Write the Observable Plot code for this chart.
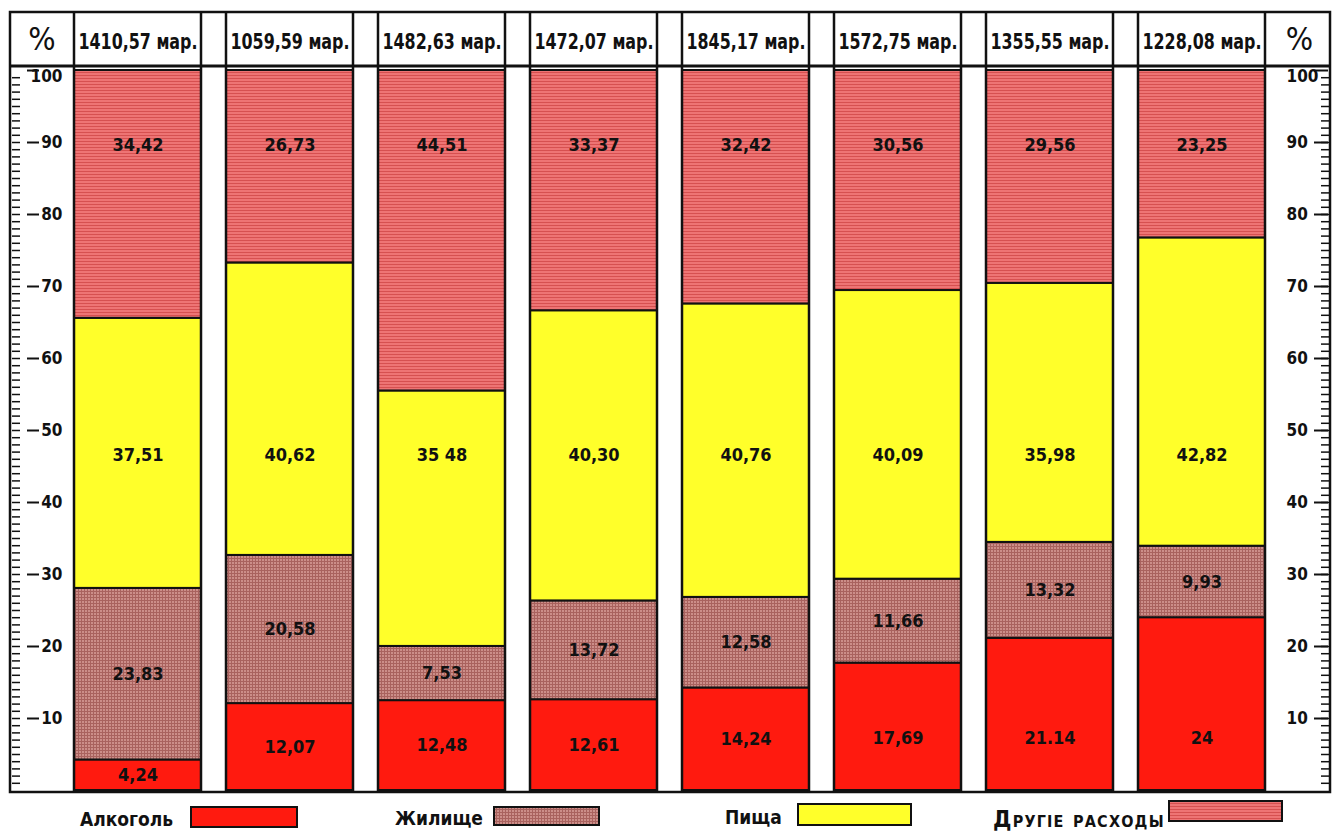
<!DOCTYPE html>
<html><head><meta charset="utf-8">
<script src="https://cdn.jsdelivr.net/npm/d3@7"></script>
<script src="https://cdn.jsdelivr.net/npm/@observablehq/plot@0.6"></script>
<style>
body{margin:0;background:#fff;}
#wrap{position:relative;width:1334px;height:834px;font-family:"DejaVu Sans Condensed","DejaVu Sans",sans-serif;}
.li{position:absolute;font-weight:bold;font-size:19px;color:#111;line-height:22px;}
.sw{position:absolute;}
</style></head><body>
<svg width="0" height="0" style="position:absolute">
  <defs>
    <pattern id="pOther" patternUnits="userSpaceOnUse" width="4" height="3">
      <rect width="4" height="3" fill="#ee7474"/>
      <rect width="4" height="1" fill="#d65050"/>
    </pattern>
    <pattern id="pHousing" patternUnits="userSpaceOnUse" width="3" height="3">
      <rect width="3" height="3" fill="#cc8e89"/>
      <rect width="3" height="1" fill="#a9625e"/>
      <rect width="1" height="3" fill="#a9625e"/>
    </pattern>
  </defs>
</svg>
<div id="wrap"><div id="chart"></div><div id="legend"></div></div>
<script>
// ---- data ----
const totals = ["1410,57 мар.","1059,59 мар.","1482,63 мар.","1472,07 мар.","1845,17 мар.","1572,75 мар.","1355,55 мар.","1228,08 мар."];
const categories = ["Алкоголь","Жилище","Пища","Другіе расходы"];
const alcohol = [4.24,12.07,12.48,12.61,14.24,17.69,21.14,24.00];
const housing = [23.83,20.58,7.53,13.72,12.58,11.66,13.32,9.93];
const food = [37.51,40.62,35.48,40.30,40.76,40.09,35.98,42.82];
const other = [34.42,26.73,44.51,33.37,32.42,30.56,29.56,23.25];
const alcoholLabels = ["4,24","12,07","12,48","12,61","14,24","17,69","21.14","24"];
const housingLabels = ["23,83","20,58","7,53","13,72","12,58","11,66","13,32","9,93"];
const foodLabels = ["37,51","40,62","35 48","40,30","40,76","40,09","35,98","42,82"];
const otherLabels = ["34,42","26,73","44,51","33,37","32,42","30,56","29,56","23,25"];
const yTicks = [10,20,30,40,50,60,70,80,90];
const yTop = [100];
const yMinor = d3.range(1,100);
const fills = ["#ff1a0f","url(#pHousing)","#ffff2a","url(#pOther)"];

(function () {
// ---- rows ----
const series = [alcohol, housing, food, other];
const labels = [alcoholLabels, housingLabels, foodLabels, otherLabels];
const rows = [];
totals.forEach((bar, i) => {
  let base = 0;
  categories.forEach((cat, k) => {
    const v = series[k][i];
    let ly;
    if (k === 0) ly = Math.min(v / 2, 7.2);
    else if (k === 1) ly = base + v / 2;
    else if (k === 2) ly = 46.5;
    else ly = 89.6;
    rows.push({bar, cat, value: v, label: labels[k][i], ly});
    base += v;
  });
});

const font = "DejaVu Sans Condensed";
const allTicks = yTicks.concat(yTop);
const plot = Plot.plot({
  width: 1334, height: 798,
  marginLeft: 71, marginRight: 66, marginTop: 70, marginBottom: 8,
  style: {fontFamily: font, background: "white", color: "#111"},
  x: {domain: totals, paddingInner: 0.162, paddingOuter: 0, label: null},
  y: {domain: [0, 100], label: null},
  color: {type: "ordinal", domain: categories, range: fills},
  marks: [
    Plot.barY(rows, {x: "bar", y: "value", fill: "cat", stroke: "#111", strokeWidth: 2}),
    Plot.text(rows, {x: "bar", y: "ly", text: "label", fontSize: 18, fontWeight: "bold", fill: "#111"}),
    // left axis
    Plot.axisY(yMinor, {anchor: "left", tickSize: 8, dx: -51, fill: "none", strokeWidth: 1.5, label: null}),
    Plot.axisY(allTicks, {anchor: "left", tickSize: 12, dx: -32, fill: "none", strokeWidth: 2, label: null}),
    Plot.axisY(yTicks, {anchor: "left", tickSize: 0, tickPadding: 9, fontSize: 17, fontWeight: "bold", label: null}),
    Plot.axisY(yTop, {anchor: "left", tickSize: 0, tickPadding: 9, dy: 6, fontSize: 17, fontWeight: "bold", label: null}),
    // right axis
    Plot.axisY(yMinor, {anchor: "right", tickSize: 8, dx: 52, fill: "none", strokeWidth: 1.5, label: null}),
    Plot.axisY(allTicks, {anchor: "right", tickSize: 14, dx: 45, fill: "none", strokeWidth: 2, label: null}),
    Plot.axisY(yTicks, {anchor: "right", tickSize: 0, tickPadding: 18, fontSize: 17, fontWeight: "bold", label: null}),
    Plot.axisY(yTop, {anchor: "right", tickSize: 0, tickPadding: 18, dy: 6, fontSize: 17, fontWeight: "bold", label: null}),
    // header labels
    Plot.axisX({anchor: "top", tickSize: 0, tickPadding: 22, fontSize: 21, fontWeight: "bold", label: null})
  ]
});
document.getElementById("chart").appendChild(plot);

// ---- frame / header grid drawn from the scales ----
const svg = d3.select(plot);
const xs = plot.scale("x"), ys = plot.scale("y");
const bw = xs.bandwidth;
const frameLeft = 10, frameRight = 1330, frameTop = 12, headerBottom = 66;
const frameBottom = ys.apply(0) + 2;
const g = svg.append("g").attr("stroke", "#111").attr("fill", "none");
g.append("rect").attr("x", frameLeft).attr("y", frameTop).attr("width", frameRight - frameLeft).attr("height", frameBottom - frameTop).attr("stroke-width", 2.5);
g.append("line").attr("x1", frameLeft).attr("x2", frameRight).attr("y1", headerBottom).attr("y2", headerBottom).attr("stroke-width", 3);
totals.forEach(t => {
  const x0 = xs.apply(t);
  [x0, x0 + bw].forEach(x => g.append("line").attr("x1", x).attr("x2", x).attr("y1", frameTop).attr("y2", frameBottom).attr("stroke-width", 2.5));
});
// "%" header cells
const r0 = xs.apply(totals[0]), r1 = xs.apply(totals[totals.length - 1]) + bw;
[(frameLeft + r0) / 2, (r1 + frameRight) / 2 + 2].forEach(cx => {
  svg.append("text").attr("x", cx).attr("y", 50).attr("text-anchor", "middle")
    .attr("font-size", 32).attr("font-family", font).attr("fill", "#111").text("%");
});
// stretch header labels to fill their cells
svg.selectAll("g[aria-label='x-axis tick label'] text")
  .attr("textLength", bw - 8).attr("lengthAdjust", "spacingAndGlyphs");

// ---- legend ----
const legendItems = [
  {name: categories[0], tx: 80, sx: 190, sy: 806, sw: 108, sh: 22, fill: fills[0]},
  {name: categories[1], tx: 395, sx: 493, sy: 806, sw: 107, sh: 20, fill: fills[1]},
  {name: categories[2], tx: 725, sx: 797, sy: 803, sw: 115, sh: 23, fill: fills[2]},
  {name: categories[3], tx: 993, sx: 1168, sy: 800, sw: 115, sh: 22, fill: fills[3], caps: true}
];
const wrap = d3.select("#wrap");
legendItems.forEach(d => {
  wrap.append("div").attr("class", "li")
    .style("left", d.tx + "px").style("top", (d.caps ? 808 : d.sy + d.sh / 2 - 9) + "px")
    .style("font-variant", d.caps ? "small-caps" : null)
    .style("font-size", d.caps ? "23px" : null)
    .style("letter-spacing", d.caps ? "1.2px" : null)
    .text(d.name);
  const s = wrap.append("svg").attr("class", "sw").attr("width", d.sw).attr("height", d.sh)
    .style("left", d.sx + "px").style("top", d.sy + "px");
  s.append("rect").attr("x", 1).attr("y", 1).attr("width", d.sw - 2).attr("height", d.sh - 2)
    .attr("fill", d.fill).attr("stroke", "#111").attr("stroke-width", 2);
});
})();
</script>
</body></html>
